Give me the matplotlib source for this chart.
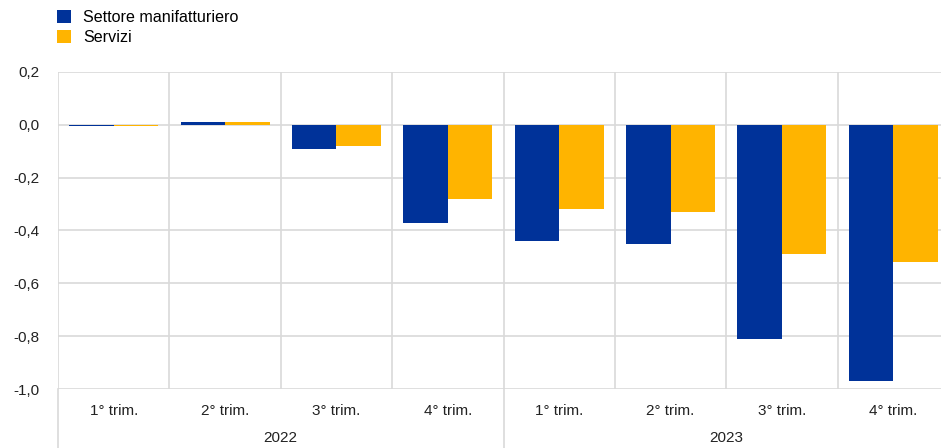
import numpy as np
import matplotlib
matplotlib.use("Agg")
import matplotlib.pyplot as plt
import matplotlib.transforms as mtransforms

plt.rcParams['font.family'] = ['Liberation Sans', 'DejaVu Sans']

quarters = ["1° trim.", "2° trim.", "3° trim.", "4° trim.",
            "1° trim.", "2° trim.", "3° trim.", "4° trim."]
years = ["2022", "2023"]
manifattura = [-0.004, 0.012, -0.09, -0.37, -0.44, -0.45, -0.81, -0.97]
servizi = [-0.004, 0.01, -0.08, -0.28, -0.32, -0.33, -0.49, -0.52]
series_names = ["Settore manifatturiero", "Servizi"]
colors = ["#003299", "#ffb400"]
yticks = [0.2, 0.0, -0.2, -0.4, -0.6, -0.8, -1.0]

fig = plt.figure(figsize=(9.41, 4.48), dpi=100)
ax = fig.add_axes([58 / 941, 59 / 448, 891 / 941, 317 / 448])

x = np.arange(len(quarters))
w = 0.4
grid_c = "#d9d9d9"

ax.bar(x - w / 2, manifattura, w, color=colors[0], zorder=3, label=series_names[0])
ax.bar(x + w / 2, servizi, w, color=colors[1], zorder=3, label=series_names[1])

ax.set_xlim(-0.5, len(quarters) - 0.5)
ax.set_ylim(-1.0, 0.2)
ax.set_yticks(yticks)
ax.set_yticklabels([f"{v:.1f}".replace(".", ",") for v in yticks])
for v in yticks:
    ax.axhline(v, color=grid_c, lw=1.2, zorder=1)
for b in np.arange(-0.5, len(quarters), 1.0):
    ax.axvline(b, color=grid_c, lw=1.2, zorder=1)

ax.set_xticks(x)
ax.set_xticklabels(quarters)
ax.tick_params(axis="both", length=0, labelsize=11, colors="#222222")
ax.tick_params(axis="x", pad=11)
ax.tick_params(axis="y", pad=13)
for s in ax.spines.values():
    s.set_visible(False)

trans = mtransforms.blended_transform_factory(ax.transData, ax.transAxes)
for i, yr in enumerate(years):
    ax.text(i * 4 + 1.5, -0.155, yr, transform=trans, ha="center", va="center",
            fontsize=11, color="#222222")
    ax.plot([i * 4 - 0.5, i * 4 - 0.5], [0, -0.2], transform=trans,
            color=grid_c, lw=1.2, clip_on=False)

fig.legend(loc="upper left", bbox_to_anchor=(57 / 941, 1 - 10 / 448), frameon=False,
           fontsize=11.6, handlelength=0.85, handleheight=0.85, handletextpad=0.75,
           labelspacing=0.3, borderaxespad=0, borderpad=0)

fig.savefig("out.png", dpi=100)
